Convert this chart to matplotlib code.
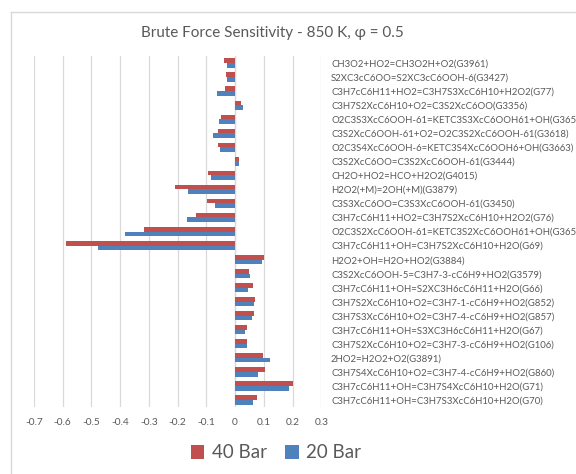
import matplotlib
matplotlib.use("Agg")
import matplotlib.pyplot as plt
import numpy as np
from matplotlib.lines import Line2D

plt.rcParams['font.family'] = ['Lato', 'DejaVu Sans']

reactions = [
    "CH3O2+HO2=CH3O2H+O2(G3961)",
    "S2XC3cC6OO=S2XC3cC6OOH-6(G3427)",
    "C3H7cC6H11+HO2=C3H7S3XcC6H10+H2O2(G77)",
    "C3H7S2XcC6H10+O2=C3S2XcC6OO(G3356)",
    "O2C3S3XcC6OOH-61=KETC3S3XcC6OOH61+OH(G3658)",
    "C3S2XcC6OOH-61+O2=O2C3S2XcC6OOH-61(G3618)",
    "O2C3S4XcC6OOH-6=KETC3S4XcC6OOH6+OH(G3663)",
    "C3S2XcC6OO=C3S2XcC6OOH-61(G3444)",
    "CH2O+HO2=HCO+H2O2(G4015)",
    "H2O2(+M)=2OH(+M)(G3879)",
    "C3S3XcC6OO=C3S3XcC6OOH-61(G3450)",
    "C3H7cC6H11+HO2=C3H7S2XcC6H10+H2O2(G76)",
    "O2C3S2XcC6OOH-61=KETC3S2XcC6OOH61+OH(G3651)",
    "C3H7cC6H11+OH=C3H7S2XcC6H10+H2O(G69)",
    "H2O2+OH=H2O+HO2(G3884)",
    "C3S2XcC6OOH-5=C3H7-3-cC6H9+HO2(G3579)",
    "C3H7cC6H11+OH=S2XC3H6cC6H11+H2O(G66)",
    "C3H7S2XcC6H10+O2=C3H7-1-cC6H9+HO2(G852)",
    "C3H7S3XcC6H10+O2=C3H7-4-cC6H9+HO2(G857)",
    "C3H7cC6H11+OH=S3XC3H6cC6H11+H2O(G67)",
    "C3H7S2XcC6H10+O2=C3H7-3-cC6H9+HO2(G106)",
    "2HO2=H2O2+O2(G3891)",
    "C3H7S4XcC6H10+O2=C3H7-4-cC6H9+HO2(G860)",
    "C3H7cC6H11+OH=C3H7S4XcC6H10+H2O(G71)",
    "C3H7cC6H11+OH=C3H7S3XcC6H10+H2O(G70)",
]

bar40 = [-0.038, -0.033, -0.036, 0.020, -0.050, -0.060, -0.060, 0.015, -0.093,
         -0.208, -0.098, -0.135, -0.316, -0.590, 0.102, 0.047, 0.062, 0.069,
         0.066, 0.040, 0.042, 0.097, 0.105, 0.201, 0.076]
bar20 = [-0.027, -0.029, -0.062, 0.027, -0.056, -0.078, -0.051, 0.012, -0.083,
         -0.165, -0.070, -0.167, -0.384, -0.478, 0.093, 0.053, 0.044, 0.065,
         0.059, 0.033, 0.040, 0.122, 0.080, 0.187, 0.062]

xticks = [-0.7, -0.6, -0.5, -0.4, -0.3, -0.2, -0.1, 0, 0.1, 0.2, 0.3]

red = '#C0504D'
blue = '#4F81BD'
grey = '#595959'

fig = plt.figure(figsize=(5.76, 4.74), dpi=100)
ax = fig.add_axes([34 / 576, 1 - 407 / 474, (321.3 - 34) / 576, (407 - 56) / 474])

y = np.arange(len(reactions))
h = 0.33
ax.barh(y - h / 2, bar40, height=h, color=red, label='40 Bar', zorder=3)
ax.barh(y + h / 2, bar20, height=h, color=blue, label='20 Bar', zorder=3)

ax.set_ylim(len(reactions) - 0.5, -0.5)
ax.set_xlim(-0.7, 0.3)
ax.set_xticks(xticks)
ax.set_xticklabels(['0' if v == 0 else f'{v:.1f}' for v in xticks])
ax.grid(axis='x', color='#D9D9D9', linewidth=0.9, zorder=0)
ax.axvline(0, color='#D9D9D9', linewidth=0.9, zorder=1)

ax.yaxis.tick_right()
ax.set_yticks(y)
ax.set_yticklabels(reactions, ha='left')
ax.tick_params(axis='y', length=0, pad=7, labelsize=6.9, labelcolor=grey)
ax.tick_params(axis='x', length=0, pad=8, labelsize=7.3, labelcolor=grey)
for s in ax.spines.values():
    s.set_visible(False)

fig.text(272 / 576, 1 - 33 / 474, 'Brute Force Sensitivity - 850 K, \u03c6 = 0.5',
         ha='center', va='center', fontsize=11, color=grey)

fig.legend(loc='center', bbox_to_anchor=(276 / 576, 1 - 453 / 474), ncol=2,
           frameon=False, fontsize=13.5, labelcolor=grey, handlelength=0.7,
           handleheight=0.7, handletextpad=0.4, columnspacing=1.0)

fig.add_artist(Line2D([11 / 576, 11 / 576], [0, 1 - 12 / 474], transform=fig.transFigure,
                      color='#D9D9D9', linewidth=1))
fig.add_artist(Line2D([11 / 576, 1], [1 - 12 / 474, 1 - 12 / 474], transform=fig.transFigure,
                      color='#D9D9D9', linewidth=1))

fig.savefig('out.png', dpi=100)
